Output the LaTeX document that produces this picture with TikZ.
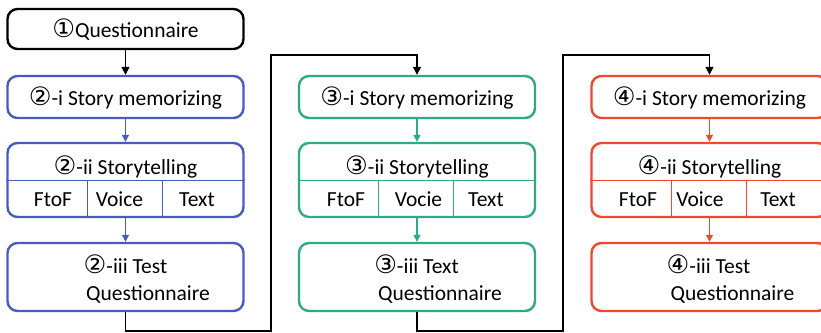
\documentclass[tikz,border=0pt]{standalone}
\usepackage{fontspec}
\setmainfont{Carlito}
\newfontfamily\circf[Scale=1.18]{DejaVu Sans}
\usetikzlibrary{arrows.meta}
\definecolor{cblue}{RGB}{72,92,190}
\definecolor{cgreen}{RGB}{46,170,136}
\definecolor{cred}{RGB}{238,72,46}
\newcommand{\cn}[1]{{\circf #1}}
\begin{document}
\begin{tikzpicture}[x=1pt,y=-1pt,
  box/.style={draw=#1, line width=2.4pt, rounded corners=10pt, minimum width=236pt, inner sep=0pt},
  lbl/.style={anchor=base, inner sep=0pt, font=\fontsize{21.5}{25}\selectfont},
  divl/.style={draw=#1, line width=1pt},
  flow/.style={draw=#1, line width=1.2pt, -{Triangle[length=7pt,width=7pt]}},
  conn/.style={draw=black, line width=1.3pt, -{Triangle[length=8pt,width=8pt]}}
]
\useasboundingbox (0,0) rectangle (821,332);
\clip (0,0) rectangle (821,332);

% top box
\node[box=black, minimum height=40pt] (q) at (125.5,29) {};
\node[lbl] (qt) at (125.5,37) {\cn{①}Questionnaire};

% column 1 (blue)
\node[box=cblue, minimum height=42pt] (i1) at (125.5,97) {};
\node[lbl] (i1t) at (125.5,105) {\cn{②}-i Story memorizing};
\node[box=cblue, minimum height=74pt] (ii1) at (125.5,180) {};
\node[lbl] (ii1t) at (125.5,174) {\cn{②}-ii Storytelling};
\draw[divl=cblue] (ii1.west) -- (ii1.east);
\draw[divl=cblue] (87,180) -- (87,217);
\draw[divl=cblue] (162,180) -- (162,217);
\node[lbl] (ii1a) at (53,206) {FtoF};
\node[lbl] (ii1b) at (119.5,206) {Voice};
\node[lbl] (ii1c) at (197,206) {Text};
\node[box=cblue, minimum height=68pt] (iii1) at (125.5,277) {};
\node[lbl] (iii1a) at (125.5,273) {\cn{②}-iii Test};
\node[lbl] (iii1b) at (148,300) {Questionnaire};
\draw[flow=cblue] (i1.south) -- (ii1.north);
\draw[flow=cblue] (ii1.south) -- (iii1.north);

% column 2 (green)
\node[box=cgreen, minimum height=42pt] (i2) at (417,97) {};
\node[lbl] (i2t) at (417,105) {\cn{③}-i Story memorizing};
\node[box=cgreen, minimum height=74pt] (ii2) at (417,180) {};
\node[lbl] (ii2t) at (417,174) {\cn{③}-ii Storytelling};
\draw[divl=cgreen] (ii2.west) -- (ii2.east);
\draw[divl=cgreen] (378,180) -- (378,217);
\draw[divl=cgreen] (453,180) -- (453,217);
\node[lbl] (ii2a) at (346,206) {FtoF};
\node[lbl] (ii2b) at (418.5,206) {Vocie};
\node[lbl] (ii2c) at (486,206) {Text};
\node[box=cgreen, minimum height=68pt] (iii2) at (417,277) {};
\node[lbl] (iii2a) at (416.5,273) {\cn{③}-iii Text};
\node[lbl] (iii2b) at (440,300) {Questionnaire};
\draw[flow=cgreen] (i2.south) -- (ii2.north);
\draw[flow=cgreen] (ii2.south) -- (iii2.north);

% column 3 (red)
\node[box=cred, minimum height=42pt] (i3) at (709.5,97) {};
\node[lbl] (i3t) at (709.5,105) {\cn{④}-i Story memorizing};
\node[box=cred, minimum height=74pt] (ii3) at (709.5,180) {};
\node[lbl] (ii3t) at (709.5,174) {\cn{④}-ii Storytelling};
\draw[divl=cred] (ii3.west) -- (ii3.east);
\draw[divl=cred] (671,180) -- (671,217);
\draw[divl=cred] (746,180) -- (746,217);
\node[lbl] (ii3a) at (638,206) {FtoF};
\node[lbl] (ii3b) at (700,206) {Voice};
\node[lbl] (ii3c) at (778,206) {Text};
\node[box=cred, minimum height=68pt] (iii3) at (709.5,277) {};
\node[lbl] (iii3a) at (708.5,273) {\cn{④}-iii Test};
\node[lbl] (iii3b) at (732.5,300) {Questionnaire};
\draw[flow=cred] (i3.south) -- (ii3.north);
\draw[flow=cred] (ii3.south) -- (iii3.north);

% black connectors
\coordinate (b1) at (271,331);
\coordinate (t1) at (271,55);
\coordinate (b2) at (563,331);
\coordinate (t2) at (563,55);
\draw[conn] (q.south) -- (i1.north);
\draw[conn] (iii1.south) |- (b1) -- (t1) -| (i2.north);
\draw[conn] (iii2.south) |- (b2) -- (t2) -| (i3.north);
\end{tikzpicture}
\end{document}
